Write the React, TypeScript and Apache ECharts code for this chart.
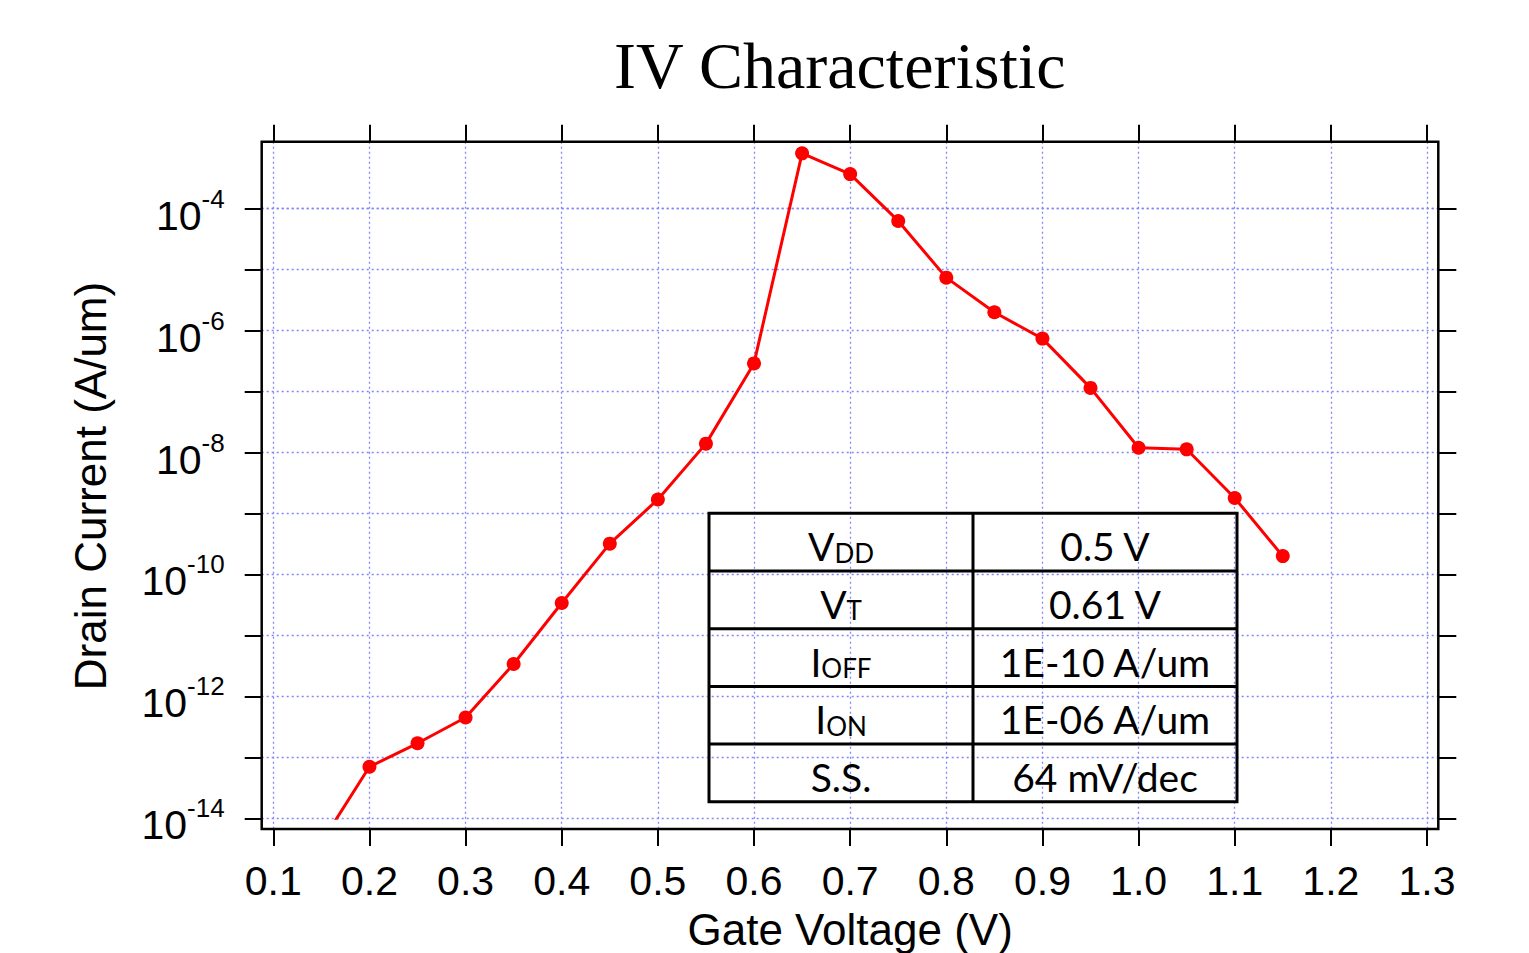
import React, { useEffect, useRef } from 'react';
import * as echarts from 'echarts';

// ---- data ----
const gateVoltage = [0.15, 0.2, 0.25, 0.3, 0.35, 0.4, 0.45, 0.5, 0.55, 0.6, 0.65, 0.7, 0.75, 0.8, 0.85, 0.9, 0.95, 1.0, 1.05, 1.1, 1.15];
const drainCurrent = [4e-15, 7.0e-14, 1.7e-13, 4.5e-13, 3.4e-12, 3.4e-11, 3.2e-10, 1.7e-9, 1.4e-8, 2.9e-7, 8.1e-4, 3.7e-4, 6.3e-5, 7.4e-6, 2.0e-6, 7.4e-7, 1.15e-7, 1.2e-8, 1.13e-8, 1.8e-9, 2.0e-10];
const xMin = 0.1;
const xMax = 1.3;
const xStep = 0.1;
const yMin = 1e-14;
const yMax = 1e-4;
const yDataMax = 1e-2;

const tableParamMain = ['V', 'V', 'I', 'I', 'S.S.'];
const tableParamSub = ['DD', 'T', 'OFF', 'ON', ''];
const tableValues = ['0.5 V', '0.61 V', '1E-10 A/um', '1E-06 A/um', '64 mV/dec'];

const SANS = 'Liberation Sans';
const TABLE_FONT = 'Lato';

const gridLineStyle = { color: '#8484ff', width: 1.3, type: [2, 3] as any };
const tickStyle = { color: '#000', width: 2 };

function buildTable() {
  const x0 = 709;
  const y0 = 513.3;
  const colW = 264;
  const rowH = 57.7;
  const children: any[] = [];
  const n = tableValues.length;
  children.push({
    type: 'rect',
    shape: { x: x0, y: y0, width: colW * 2, height: rowH * n },
    style: { fill: 'none', stroke: '#000', lineWidth: 3 },
    z: 20,
  });
  for (let i = 1; i < n; i++) {
    children.push({
      type: 'line',
      shape: { x1: x0, y1: y0 + rowH * i, x2: x0 + colW * 2, y2: y0 + rowH * i },
      style: { stroke: '#000', lineWidth: 3 },
      z: 20,
    });
  }
  children.push({
    type: 'line',
    shape: { x1: x0 + colW, y1: y0, x2: x0 + colW, y2: y0 + rowH * n },
    style: { stroke: '#000', lineWidth: 3 },
    z: 20,
  });
  for (let i = 0; i < n; i++) {
    const cy = y0 + rowH * (i + 0.5) + 4;
    const sub = tableParamSub[i];
    children.push({
      type: 'text',
      x: x0 + colW / 2,
      y: cy,
      z: 21,
      style: {
        text: sub ? `{a|${tableParamMain[i]}}{b|${sub}}` : `{a|${tableParamMain[i]}}`,
        align: 'center',
        verticalAlign: 'middle',
        fill: '#000',
        rich: {
          a: { fontFamily: TABLE_FONT, fontSize: 39, lineHeight: 39, fill: '#000' },
          b: { fontFamily: TABLE_FONT, fontSize: 26, lineHeight: 29, verticalAlign: 'bottom', fill: '#000' },
        },
      },
    });
    children.push({
      type: 'text',
      x: x0 + colW * 1.5,
      y: cy,
      z: 21,
      style: {
        text: tableValues[i],
        align: 'center',
        verticalAlign: 'middle',
        fill: '#000',
        fontFamily: TABLE_FONT,
        fontSize: 39,
      },
    });
  }
  return children;
}

export default function App() {
  const ref = useRef<HTMLDivElement>(null);
  useEffect(() => {
    if (!ref.current) return;
    const chart = echarts.init(ref.current, undefined, { renderer: 'svg' });
    const expOf = (v: number) => Math.round(Math.log10(v));
    const option: any = {
      animation: false,
      backgroundColor: '#fff',
      title: {
        text: 'IV Characteristic',
        left: 614,
        top: 29,
        padding: 0,
        textStyle: { fontFamily: 'Liberation Serif', fontSize: 66, fontWeight: 'normal', color: '#000', lineHeight: 72 },
      },
      grid: [
        { left: 273.3, right: 102, top: 141.7, bottom: 124, outerBoundsMode: 'none', containLabel: false },
        { left: 261.7, right: 90.7, top: 208.7, bottom: 134.7, outerBoundsMode: 'none', containLabel: false },
        { left: 273.3, right: 102, top: 86.8, bottom: 134.7, outerBoundsMode: 'none', containLabel: false },
      ],
      xAxis: [
        {
          gridIndex: 0,
          type: 'value',
          position: 'bottom',
          min: xMin,
          max: xMax,
          interval: xStep,
          axisLine: { show: false },
          axisTick: { show: true, length: 17, lineStyle: tickStyle },
          axisLabel: {
            margin: 31,
            fontFamily: SANS,
            fontSize: 41,
            lineHeight: 41,
            color: '#000',
            formatter: (v: number) => v.toFixed(1),
          },
          splitLine: { show: true, lineStyle: gridLineStyle },
          name: 'Gate Voltage (V)',
          nameLocation: 'middle',
          nameGap: 78,
          nameMoveOverlap: false,
          nameTextStyle: { fontFamily: SANS, fontSize: 44, lineHeight: 44, color: '#000' },
        },
        {
          gridIndex: 0,
          type: 'value',
          position: 'top',
          min: xMin,
          max: xMax,
          interval: xStep,
          axisLine: { show: false },
          axisTick: { show: true, length: 17, lineStyle: tickStyle },
          axisLabel: { show: false },
          splitLine: { show: false },
        },
        { gridIndex: 1, type: 'value', show: false, min: 0, max: 1 },
        { gridIndex: 2, type: 'value', show: false, min: xMin, max: xMax },
      ],
      yAxis: [
        { gridIndex: 0, type: 'value', show: false, min: 0, max: 1 },
        {
          gridIndex: 1,
          type: 'log',
          logBase: 10,
          position: 'left',
          min: yMin,
          max: yMax,
          interval: 1,
          axisLine: { show: false },
          axisTick: { show: true, length: 17, lineStyle: tickStyle },
          axisLabel: {
            margin: 37,
            padding: [14, 0, 0, 0],
            color: '#000',
            formatter: (v: number) => {
              const e = expOf(v);
              if (e % 2 !== 0) return '';
              return `{b|10}{s|${e}}`;
            },
            rich: {
              b: { fontFamily: SANS, fontSize: 41, lineHeight: 60, color: '#000' },
              s: { fontFamily: SANS, fontSize: 26, lineHeight: 26, verticalAlign: 'top', color: '#000' },
            },
          },
          splitLine: { show: true, lineStyle: gridLineStyle },
          name: 'Drain Current (A/um)',
          nameLocation: 'middle',
          nameRotate: 90,
          nameGap: 149,
          nameMoveOverlap: false,
          nameTextStyle: { fontFamily: SANS, fontSize: 44, lineHeight: 44, color: '#000', padding: [0, 0, 0, 55] },
        },
        {
          gridIndex: 1,
          type: 'log',
          logBase: 10,
          position: 'right',
          min: yMin,
          max: yMax,
          interval: 1,
          axisLine: { show: false },
          axisTick: { show: true, length: 18, lineStyle: tickStyle },
          axisLabel: { show: false },
          splitLine: { show: false },
        },
        { gridIndex: 2, type: 'log', logBase: 10, show: false, min: yMin, max: yDataMax },
      ],
      series: [
        {
          type: 'line',
          name: 'Drain Current',
          xAxisIndex: 3,
          yAxisIndex: 3,
          data: gateVoltage.map((x, i) => [x, drainCurrent[i]]),
          symbol: 'circle',
          symbolSize: 14,
          clip: true,
          lineStyle: { color: '#ff0000', width: 3 },
          itemStyle: { color: '#ff0000' },
          z: 10,
        },
      ],
      graphic: [
        {
          type: 'rect',
          shape: { x: 261.7, y: 141.7, width: 1176.6, height: 687.3 },
          style: { fill: 'none', stroke: '#000', lineWidth: 2.5 },
          z: 15,
        },
        ...buildTable(),
      ],
    };
    chart.setOption(option);
    return () => chart.dispose();
  }, []);
  return <div ref={ref} style={{ position: 'absolute', left: 0, top: 0, width: 1529, height: 953 }} />;
}
